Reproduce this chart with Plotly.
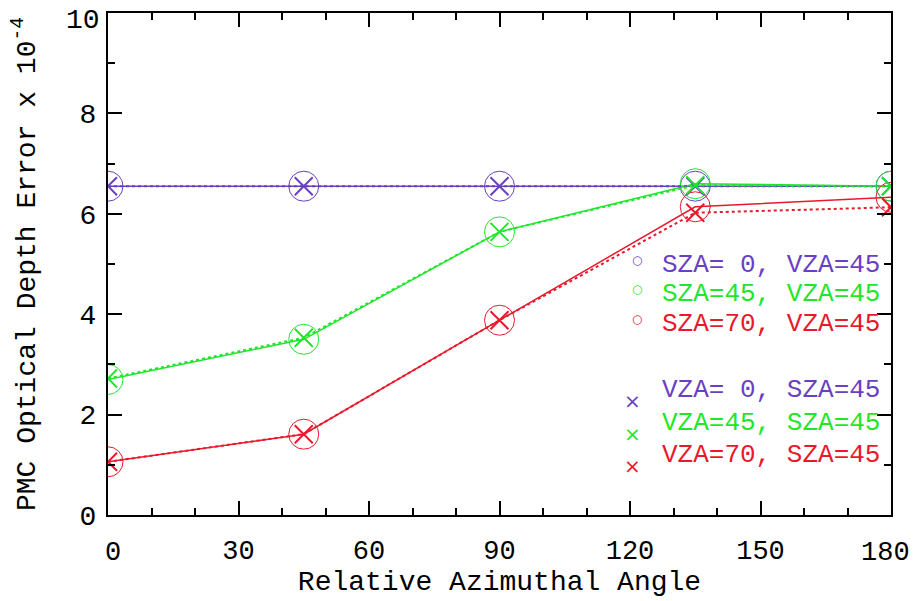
import plotly.graph_objects as go

angles = [0, 45, 90, 135, 180]

# circles (SZA varies, VZA=45) - solid lines
sza0_vza45 = [6.55, 6.55, 6.55, 6.55, 6.55]
sza45_vza45 = [2.70, 3.50, 5.64, 6.60, 6.55]
sza70_vza45 = [1.06, 1.61, 3.88, 6.14, 6.33]

# crosses (VZA varies, SZA=45) - dotted lines
vza0_sza45 = [6.55, 6.55, 6.55, 6.55, 6.55]
vza45_sza45 = [2.72, 3.53, 5.64, 6.57, 6.55]
vza70_sza45 = [1.06, 1.61, 3.88, 6.02, 6.13]

circle_labels = ["SZA= 0, VZA=45", "SZA=45, VZA=45", "SZA=70, VZA=45"]
cross_labels = ["VZA= 0, SZA=45", "VZA=45, SZA=45", "VZA=70, SZA=45"]

x_ticks = [0, 30, 60, 90, 120, 150, 180]
y_ticks = [0, 2, 4, 6, 8]
y_top_label = "10"

PURPLE = "#6a3fc4"
GREEN = "#1fe62a"
RED = "#e8192c"
colors = [PURPLE, GREEN, RED]

FONT = "Liberation Mono"

fig = go.Figure()

for ys, c, name in zip([sza0_vza45, sza45_vza45, sza70_vza45], colors, circle_labels):
    fig.add_trace(go.Scatter(
        x=angles, y=ys, mode="lines+markers", name=name,
        line=dict(color=c, width=1.5, dash="solid"),
        marker=dict(symbol="circle-open", size=30, color=c, line=dict(width=1, color=c)),
        showlegend=False))

for ys, c, name in zip([vza0_sza45, vza45_sza45, vza70_sza45], colors, cross_labels):
    fig.add_trace(go.Scatter(
        x=angles, y=ys, mode="lines+markers", name=name,
        line=dict(color=c, width=2, dash="dot"),
        marker=dict(symbol="x-thin-open", size=18, color=c, line=dict(width=2, color=c)),
        showlegend=False))

# legend as text
leg_y_circ = [4.98, 4.40, 3.80]
leg_y_cross = [2.49, 1.84, 1.20]
for lab, yv, c in zip(circle_labels, leg_y_circ, colors):
    fig.add_annotation(x=178, y=yv, xref="x", yref="y", text=lab, showarrow=False,
                       xanchor="right", yanchor="middle",
                       font=dict(family=FONT, size=26, color=c))
    fig.add_annotation(x=121.5, y=yv + 0.10, xref="x", yref="y", text="○", showarrow=False,
                       xanchor="center", yanchor="middle",
                       font=dict(family="DejaVu Sans", size=12, color=c))
for lab, yv, c in zip(cross_labels, leg_y_cross, colors):
    fig.add_annotation(x=178, y=yv, xref="x", yref="y", text=lab, showarrow=False,
                       xanchor="right", yanchor="middle",
                       font=dict(family=FONT, size=26, color=c))
    fig.add_annotation(x=120.5, y=yv - 0.22, xref="x", yref="y", text="×", showarrow=False,
                       xanchor="center", yanchor="middle",
                       font=dict(family="DejaVu Sans", size=20, color=c))

# top y tick label (placed slightly inside the canvas, as in the original)
fig.add_annotation(x=0, y=10, xref="paper", yref="y", text=y_top_label, showarrow=False,
                   xanchor="right", yanchor="middle", xshift=-6, yshift=-7,
                   font=dict(family=FONT, size=28, color="black"))

# end x tick labels nudged inward (as in the original)
for xv, shift in [(x_ticks[0], 5), (x_ticks[-1], -6)]:
    fig.add_annotation(x=xv, y=0, xref="x", yref="paper", text=str(xv), showarrow=False,
                       xanchor="center", yanchor="top", xshift=shift, yshift=-21,
                       font=dict(family=FONT, size=27, color="black"))

axis_common = dict(
    showgrid=False, zeroline=False, showline=True, linecolor="black", linewidth=2,
    mirror="ticks", ticks="inside", ticklen=14, tickwidth=1.5, tickcolor="black",
    automargin=False,
)

fig.update_xaxes(
    range=[0, 180], tickmode="array", tickvals=x_ticks[1:-1],
    tickfont=dict(family=FONT, size=27, color="black"),
    minor=dict(dtick=10, ticks="inside", ticklen=7, tickcolor="black", tickwidth=1.5),
    title=dict(text="Relative Azimuthal Angle", font=dict(family=FONT, size=28, color="black"), standoff=4),
    ticklabelstandoff=10,
    **axis_common)
fig.update_yaxes(
    range=[0, 10], tickmode="array", tickvals=y_ticks,
    tickfont=dict(family=FONT, size=28, color="black"),
    minor=dict(dtick=1, ticks="inside", ticklen=7, tickcolor="black", tickwidth=1.5),
    title=dict(text="PMC Optical Depth Error x 10<sup>-4</sup>", font=dict(family=FONT, size=28, color="black"), standoff=36),
    ticklabelstandoff=4,
    **axis_common)

fig.update_layout(
    width=919, height=601,
    margin=dict(l=108, r=28, t=13, b=86),
    paper_bgcolor="white", plot_bgcolor="white",
)

fig.write_html("out.html")
